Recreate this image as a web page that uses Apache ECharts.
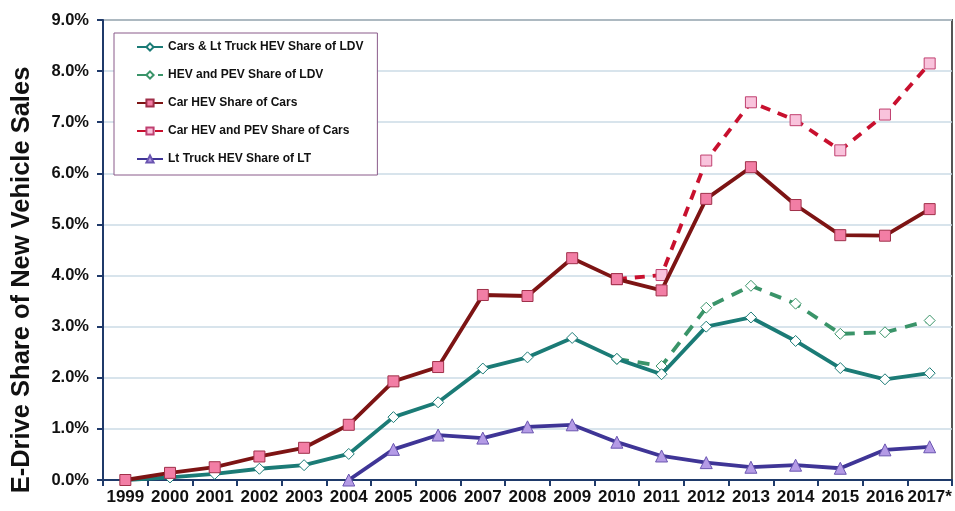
<!DOCTYPE html>
<html>
<head>
<meta charset="utf-8">
<script src="https://cdn.jsdelivr.net/npm/echarts@6/dist/echarts.min.js"></script>
<style>
  html, body { margin: 0; padding: 0; background: #fff; }
  #main { width: 955px; height: 511px; }
</style>
</head>
<body>
<div id="main"></div>
<script>
var years = ['1999', '2000', '2001', '2002', '2003', '2004', '2005', '2006', '2007', '2008',
    '2009', '2010', '2011', '2012', '2013', '2014', '2015', '2016', '2017*'];

var ldvHev = [0.0, 0.05, 0.12, 0.22, 0.29, 0.51, 1.23, 1.52, 2.18, 2.40,
    2.78, 2.37, 2.07, 3.00, 3.18, 2.72, 2.19, 1.97, 2.09];
var ldvHevPev = [null, null, null, null, null, null, null, null, null, null,
    null, 2.37, 2.23, 3.37, 3.80, 3.45, 2.86, 2.89, 3.12];
var carHev = [0.0, 0.14, 0.25, 0.46, 0.63, 1.08, 1.93, 2.21, 3.62, 3.60,
    4.34, 3.93, 3.71, 5.50, 6.12, 5.38, 4.79, 4.78, 5.30];
var carHevPev = [null, null, null, null, null, null, null, null, null, null,
    null, 3.93, 4.01, 6.25, 7.39, 7.04, 6.45, 7.15, 8.15];
var ltHev = [null, null, null, null, null, 0.0, 0.60, 0.88, 0.82, 1.04,
    1.08, 0.74, 0.47, 0.34, 0.25, 0.29, 0.23, 0.59, 0.65];

var myChart = echarts.init(document.getElementById('main'));

var font = '"Liberation Sans", Arial, sans-serif';

option = {
    animation: false,
    textStyle: { fontFamily: font },
    grid: {
        left: 103,
        right: 3,
        top: 20,
        bottom: 31,
        show: true,
        borderColor: '#555',
        borderWidth: 2
    },
    legend: {
        orient: 'vertical',
        left: 114,
        top: 33,
        padding: [8, 14, 10, 22],
        itemGap: 16,
        itemWidth: 26,
        itemHeight: 9,
        borderColor: '#8a5a8a',
        borderWidth: 1,
        backgroundColor: '#fff',
        textStyle: {
            fontFamily: font,
            fontWeight: 'bold',
            fontSize: 12,
            color: '#111'
        },
        data: [
            'Cars & Lt Truck HEV Share of LDV',
            'HEV and PEV Share of LDV',
            'Car HEV Share of Cars',
            'Car HEV and PEV Share of Cars',
            'Lt Truck HEV Share of LT'
        ]
    },
    xAxis: {
        type: 'category',
        data: years,
        boundaryGap: true,
        axisLine: { lineStyle: { color: '#1f3a6a', width: 2 } },
        axisTick: { show: true, length: 6, lineStyle: { color: '#1f3a6a', width: 2 } },
        axisLabel: {
            interval: 0,
            margin: 9,
            fontFamily: font,
            fontWeight: 'bold',
            fontSize: 17,
            color: '#111'
        }
    },
    yAxis: {
        type: 'value',
        min: 0,
        max: 9,
        interval: 1,
        name: 'E-Drive Share of New Vehicle Sales',
        nameLocation: 'middle',
        nameGap: 68,
        nameTextStyle: {
            fontFamily: font,
            fontWeight: 'bold',
            fontSize: 25.5,
            color: '#111',
            padding: [0, 60, 0, 0]
        },
        axisLine: { show: true, lineStyle: { color: '#1f3a6a', width: 2 } },
        axisTick: { show: true, length: 6, lineStyle: { color: '#1f3a6a', width: 2 } },
        axisLabel: {
            margin: 14,
            fontFamily: font,
            fontWeight: 'bold',
            fontSize: 16.5,
            color: '#111',
            formatter: function (v) { return v.toFixed(1) + '%'; }
        },
        splitLine: { lineStyle: { color: '#cbdbe6', width: 1.5 } }
    },
    series: [{
        name: 'Cars & Lt Truck HEV Share of LDV',
        type: 'line',
        data: ldvHev,
        symbol: 'diamond',
        symbolSize: 11,
        z: 3,
        lineStyle: { color: '#1b7b76', width: 3.8 },
        itemStyle: { color: '#ffffff', borderColor: '#1b7b76', borderWidth: 1 }
    }, {
        name: 'HEV and PEV Share of LDV',
        type: 'line',
        data: ldvHevPev,
        symbol: 'diamond',
        symbolSize: 11,
        z: 2,
        lineStyle: { color: '#3a9469', width: 3.8, type: [12, 9] },
        itemStyle: { color: '#ffffff', borderColor: '#3a9469', borderWidth: 1 }
    }, {
        name: 'Car HEV Share of Cars',
        type: 'line',
        data: carHev,
        symbol: 'rect',
        symbolSize: 11,
        z: 3,
        lineStyle: { color: '#7d1414', width: 3.8 },
        itemStyle: { color: '#f27ea5', borderColor: '#a0304a', borderWidth: 1 }
    }, {
        name: 'Car HEV and PEV Share of Cars',
        type: 'line',
        data: carHevPev,
        symbol: 'rect',
        symbolSize: 11,
        z: 2,
        lineStyle: { color: '#c8102e', width: 3.8, type: [10, 8] },
        itemStyle: { color: '#f9c3dc', borderColor: '#c04070', borderWidth: 1 }
    }, {
        name: 'Lt Truck HEV Share of LT',
        type: 'line',
        data: ltHev,
        symbol: 'triangle',
        symbolSize: 12,
        z: 3,
        lineStyle: { color: '#3f3596', width: 3.8 },
        itemStyle: { color: '#b49be6', borderColor: '#6a55b0', borderWidth: 1 }
    }]
};

myChart.setOption(option);
</script>
</body>
</html>
